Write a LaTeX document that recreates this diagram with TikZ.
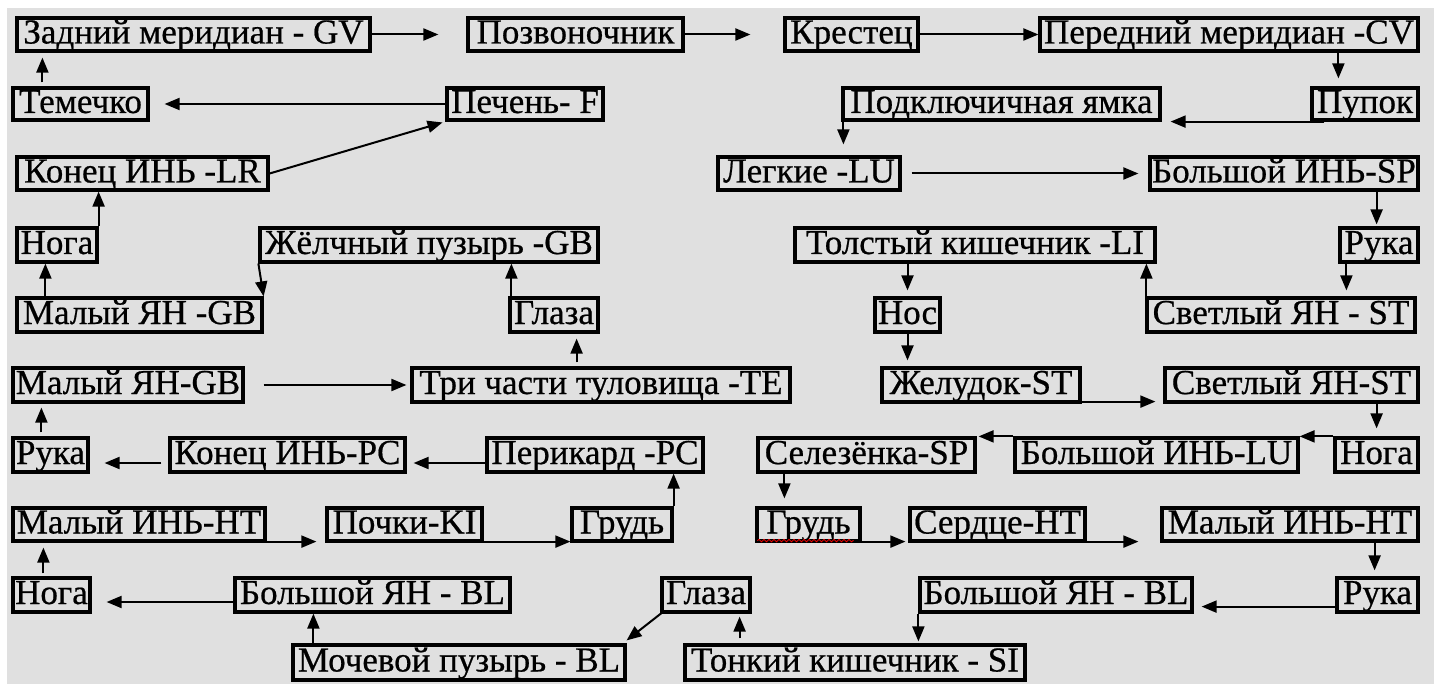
\documentclass[tikz,border=0pt]{standalone}
\usepackage{fontspec}
\setmainfont{Liberation Serif}
\newfontfamily\heavy[FakeBold=0.6]{Liberation Serif}
\usetikzlibrary{arrows.meta,decorations.pathmorphing}
\definecolor{bggray}{HTML}{E0E0E0}
\newcommand\bx[6]{\node[bx, minimum width={#4-#2}, minimum height={#5-#3}] (#1) at ({(#2+#4)/2},{(#3+#5)/2}) {#6};}
\begin{document}
\begin{tikzpicture}[x=1pt,y=-1pt,
  bx/.style={draw=black, line width=3.2pt, inner xsep=0pt, inner ysep=0pt,
    text height=24pt, text depth=6pt, font=\heavy\fontsize{35}{35}\selectfont},
  arr/.style={line width=2pt, -{Triangle[length=15pt,width=12pt]}}]
\useasboundingbox (0,0) rectangle (1434,684);
\fill[white] (0,0) rectangle (1434,684);
\fill[bggray] (7,8) rectangle (1434,684);
% row 1
\bx{gv}{17}{18}{370}{51}{Задний меридиан - GV}
\bx{pozv}{468}{18}{683}{51}{Позвоночник}
\bx{krest}{785}{18}{918}{51}{Крестец}
\bx{pcv}{1040}{18}{1418}{51}{Передний меридиан -CV}
% row 2
\bx{tem}{13}{88}{148}{120}{Темечко}
\bx{pech}{447}{88}{603}{120}{Печень- F}
\bx{podk}{843}{88}{1160}{120}{Подключичная ямка}
\bx{pupok}{1312}{88}{1418}{120}{Пупок}
% row 3
\bx{konlr}{17}{157}{268}{190}{Конец ИНЬ -LR}
\bx{legk}{718}{157}{900}{190}{Легкие -LU}
\bx{bolsp}{1150}{157}{1418}{190}{Большой ИНЬ-SP}
% row 4
\bx{noga1}{17}{228}{97}{262}{Нога}
\bx{zhelch}{260}{228}{598}{262}{Жёлчный пузырь -GB}
\bx{tolst}{795}{228}{1155}{262}{Толстый кишечник -LI}
\bx{ruka1}{1340}{228}{1418}{262}{Рука}
% row 5
\bx{malgb1}{17}{298}{262}{332}{Малый ЯН -GB}
\bx{glaza1}{510}{298}{598}{332}{Глаза}
\bx{nos}{875}{298}{940}{332}{Нос}
\bx{svst1}{1147}{298}{1415}{332}{Светлый ЯН - ST}
% row 6
\bx{malgb2}{13}{368}{243}{402}{Малый ЯН-GB}
\bx{tri}{412}{368}{790}{402}{Три части туловища -TE}
\bx{zhel}{882}{368}{1080}{402}{Желудок-ST}
\bx{svst2}{1165}{368}{1418}{402}{Светлый ЯН-ST}
% row 7
\bx{ruka2}{13}{438}{88}{472}{Рука}
\bx{konpc}{170}{438}{405}{472}{Конец ИНЬ-PC}
\bx{perik}{487}{438}{703}{472}{Перикард -PC}
\bx{selez}{758}{438}{975}{472}{Селезёнка-SP}
\bx{bollu}{1015}{438}{1298}{472}{Большой ИНЬ-LU}
\bx{noga2}{1335}{438}{1418}{472}{Нога}
% row 8
\bx{malht1}{13}{508}{265}{541}{Малый ИНЬ-HT}
\bx{pochki}{327}{508}{482}{541}{Почки-KI}
\bx{grud1}{572}{508}{672}{541}{Грудь}
\bx{grud2}{757}{508}{860}{541}{Грудь}
\bx{serdce}{910}{508}{1085}{541}{Сердце-HT}
\bx{malht2}{1162}{508}{1418}{541}{Малый ИНЬ-HT}
% row 9
\bx{noga3}{13}{578}{90}{612}{Нога}
\bx{bolbl1}{235}{578}{510}{612}{Большой ЯН - BL}
\bx{glaza2}{662}{578}{750}{612}{Глаза}
\bx{bolbl2}{920}{578}{1192}{612}{Большой ЯН - BL}
\bx{ruka3}{1337}{578}{1418}{612}{Рука}
% row 10
\bx{moch}{293}{645}{625}{680}{Мочевой пузырь - BL}
\bx{tonk}{685}{645}{1025}{680}{Тонкий кишечник - SI}
% spell-check underline
\draw[red, line width=0.8pt, decorate, decoration={snake, amplitude=1.2pt, segment length=5pt}]
  ([xshift=2pt,yshift=2pt]grud2.south west) -- ([xshift=-8pt,yshift=2pt]grud2.south east);
% connectors
\draw[arr, shorten >=28pt] (gv.east) -- (pozv.west);
\draw[arr, shorten >=33pt] (pozv.east) -- (krest.west);
\draw[arr] (krest.east) -- (pcv.west);
\draw[arr, shorten >=8pt] ([xshift=28pt]pupok.north west |- pcv.south) -- ([xshift=28pt]pupok.north west);
\draw[arr, shorten >=9pt] ([xshift=14pt]pupok.south west) -- (podk.south east);
\draw[arr, shorten >=11pt] ([xshift=2pt]podk.south west) -- ([xshift=2pt]podk.south west |- legk.north);
\draw[arr, shorten <=10pt, shorten >=10pt] (legk.east) -- (bolsp.west);
\draw[arr, shorten >=2pt] ([xshift=-43pt]bolsp.south east) -- ([xshift=-43pt]bolsp.south east |- ruka1.north);
\draw[arr, shorten >=6pt] ([xshift=8pt]ruka1.south west) -- ([xshift=8pt]ruka1.south west |- svst1.north);
\draw[arr] ([xshift=1pt]svst1.north west) -- ([xshift=1pt]svst1.north west |- tolst.south);
\draw[arr, shorten >=6pt] (nos.north |- tolst.south) -- (nos.north);
\draw[arr, shorten >=6pt] (nos.south) -- (nos.south |- zhel.north);
\draw[arr, shorten >=8pt] ([yshift=2pt]zhel.south east) -- ([yshift=2pt]svst2.south west);
\draw[arr, shorten >=8pt] ([xshift=-43pt]svst2.south east) -- ([xshift=-43pt]svst2.south east |- noga2.north);
\draw[arr] (noga2.north west) -- (bollu.north east);
\draw[arr, shorten >=2pt] (bollu.north west) -- (selez.north east);
\draw[arr, shorten >=8pt] ([xshift=28pt]selez.south west) -- ([xshift=28pt]selez.south west |- grud2.north);
\draw[arr, shorten >=3pt] ([yshift=1pt]grud2.south east) -- ([yshift=1pt]serdce.south west);
\draw[arr, shorten >=22pt] ([yshift=1pt]serdce.south east) -- ([yshift=1pt]malht2.south west);
\draw[arr, shorten >=6pt] ([xshift=-45pt]malht2.south east) -- ([xshift=-45pt]malht2.south east |- ruka3.north);
\draw[arr, shorten >=8pt] ([yshift=7pt]ruka3.south west) -- ([yshift=7pt]bolbl2.south east);
\draw[arr, shorten >=2pt] (bolbl2.south west) -- (bolbl2.south west |- tonk.north);
\draw[arr, shorten <=5pt, shorten >=3pt] ([xshift=-12pt]glaza2.south east |- tonk.north) -- ([xshift=-12pt]glaza2.south east);
\draw[arr] ([xshift=3pt,yshift=2pt]glaza2.south west) -- ([yshift=3pt]moch.north east);
\draw[arr] ([xshift=22pt]moch.north west) -- ([xshift=22pt]moch.north west |- bolbl1.south);
\draw[arr, shorten >=15pt] ([yshift=-7pt]bolbl1.west) -- ([yshift=-7pt]noga3.east);
\draw[arr, shorten <=3pt, shorten >=5pt] ([xshift=32pt]noga3.north west) -- ([xshift=32pt]noga3.north west |- malht1.south);
\draw[arr, shorten >=9pt] ([yshift=1pt]malht1.south east) -- ([yshift=1pt]pochki.south west);
\draw[arr] ([yshift=1pt]pochki.south east) -- ([yshift=1pt]grud1.south west);
\draw[arr] (grud1.north east) -- (grud1.north east |- perik.south);
\draw[arr, shorten >=7pt] ([yshift=-8pt]perik.west) -- ([yshift=-8pt]konpc.east);
\draw[arr, shorten <=7pt, shorten >=15pt] ([yshift=-8pt]konpc.west) -- ([yshift=-8pt]ruka2.east);
\draw[arr, shorten <=4pt, shorten >=4pt] ([xshift=30pt]ruka2.north west) -- ([xshift=30pt]ruka2.north west |- malgb2.south);
\draw[arr, shorten <=19pt, shorten >=4pt] (malgb2.east) -- (tri.west);
\draw[arr, shorten <=4pt, shorten >=5pt] ([xshift=-23pt]glaza1.south east |- tri.north) -- ([xshift=-23pt]glaza1.south east);
\draw[arr] ([xshift=3pt]glaza1.north west) -- ([xshift=3pt]glaza1.north west |- zhelch.south);
\draw[arr] (zhelch.south west) -- (malgb1.north east);
\draw[arr] ([xshift=30pt]malgb1.north west) -- ([xshift=30pt]malgb1.north west |- noga1.south);
\draw[arr] (noga1.north east) -- (noga1.north east |- konlr.south);
\draw[arr, shorten >=3pt] (konlr.east) -- (pech.south west);
\draw[arr, shorten >=15pt] (pech.west) -- (tem.east);
\draw[arr, shorten <=4pt, shorten >=5pt] ([xshift=31pt]tem.north west) -- ([xshift=31pt]tem.north west |- gv.south);
\end{tikzpicture}
\end{document}
